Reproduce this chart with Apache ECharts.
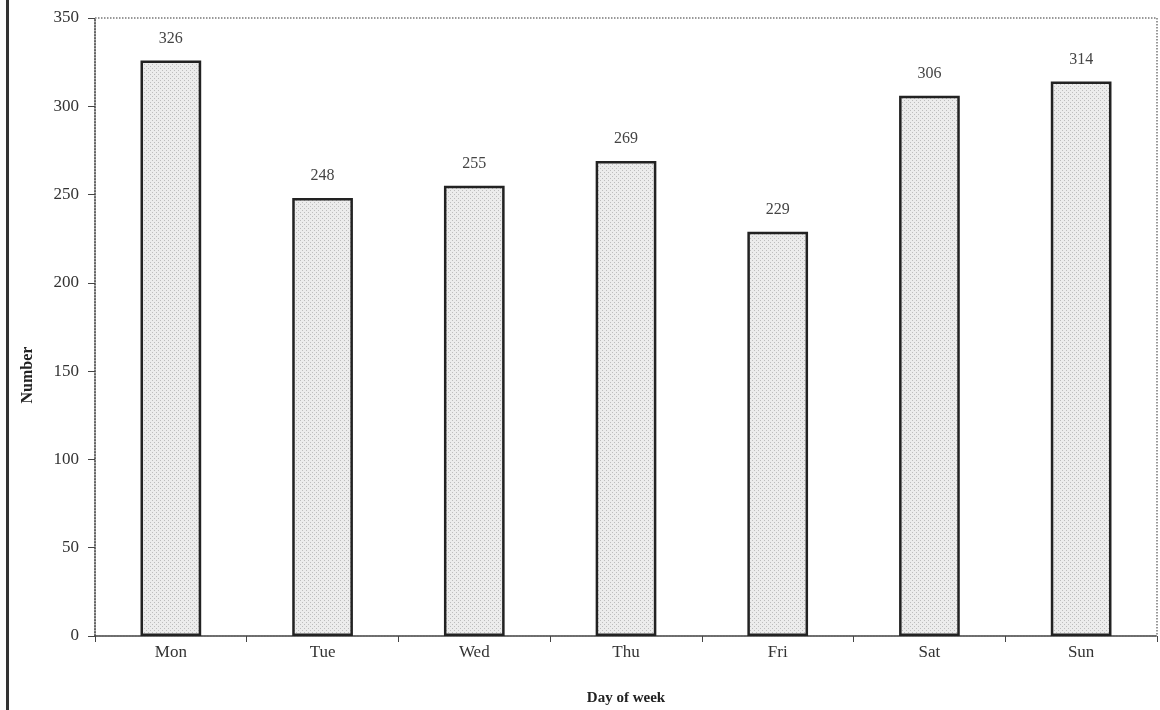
<!DOCTYPE html>
<html>
<head>
<meta charset="utf-8">
<title>Number by day of week</title>
<script src="https://cdn.jsdelivr.net/npm/echarts@6/dist/echarts.min.js"></script>
<style>
  html, body { margin: 0; padding: 0; background: #fff; }
  #chart { width: 1160px; height: 710px; }
</style>
</head>
<body>
<div id="chart"></div>
<script>
// Day categories and counts
const days = ['Mon', 'Tue', 'Wed', 'Thu', 'Fri', 'Sat', 'Sun'];
const counts = [326, 248, 255, 269, 229, 306, 314];
const yTicks = { min: 0, max: 350, interval: 50 };

const serif = '"Liberation Serif", "DejaVu Serif", serif';

// Stippled grey texture for the bar fill
function stipple() {
  const c = document.createElement('canvas');
  c.width = 4; c.height = 4;
  const g = c.getContext('2d');
  g.fillStyle = '#ececec';
  g.fillRect(0, 0, 4, 4);
  g.fillStyle = '#bdbdbd';
  g.fillRect(0, 0, 1, 1);
  g.fillRect(2, 2, 1, 1);
  return c;
}

const chart = echarts.init(document.getElementById('chart'), null, { renderer: 'canvas' });

chart.setOption({
  animation: false,
  backgroundColor: '#fff',
  grid: {
    left: 95, right: 3, top: 18, bottom: 74,
    outerBoundsMode: 'none',
    containLabel: false,
    show: true,
    borderColor: '#777',
    borderWidth: 1.5,
    borderType: 'dotted'
  },
  graphic: [
    { type: 'rect', shape: { x: 6, y: 0, width: 3, height: 710 }, style: { fill: '#333' } },
    {
      type: 'text', x: 28, y: 375, rotation: Math.PI / 2,
      style: { text: 'Number', font: 'bold 16px ' + serif, fill: '#222', align: 'center', verticalAlign: 'middle' }
    }
  ],
  xAxis: {
    type: 'category',
    data: days,
    name: 'Day of week',
    nameLocation: 'middle',
    nameGap: 55,
    nameTextStyle: { fontFamily: serif, fontWeight: 'bold', fontSize: 15, color: '#222' },
    axisLine: { lineStyle: { color: '#444', width: 1.5, type: 'dotted' } },
    axisTick: { show: true, length: 6, alignWithLabel: false, lineStyle: { color: '#444' } },
    axisLabel: { fontFamily: serif, fontSize: 17, color: '#333', margin: 8 },
    splitLine: { show: false }
  },
  yAxis: {
    type: 'value',
    min: yTicks.min, max: yTicks.max, interval: yTicks.interval,
    axisLine: { show: true, lineStyle: { color: '#555', width: 1.5, type: 'dotted' } },
    axisTick: { show: true, length: 7, lineStyle: { color: '#444' } },
    axisLabel: { fontFamily: serif, fontSize: 17, color: '#333', margin: 16 },
    splitLine: { show: false }
  },
  series: [{
    type: 'bar',
    data: counts,
    barWidth: '40%',
    itemStyle: {
      color: { image: stipple(), repeat: 'repeat' },
      borderColor: '#222',
      borderWidth: 2.5
    },
    label: {
      show: true,
      position: 'top',
      distance: 14,
      fontFamily: serif,
      fontSize: 16,
      color: '#444'
    }
  }]
});
</script>
</body>
</html>
